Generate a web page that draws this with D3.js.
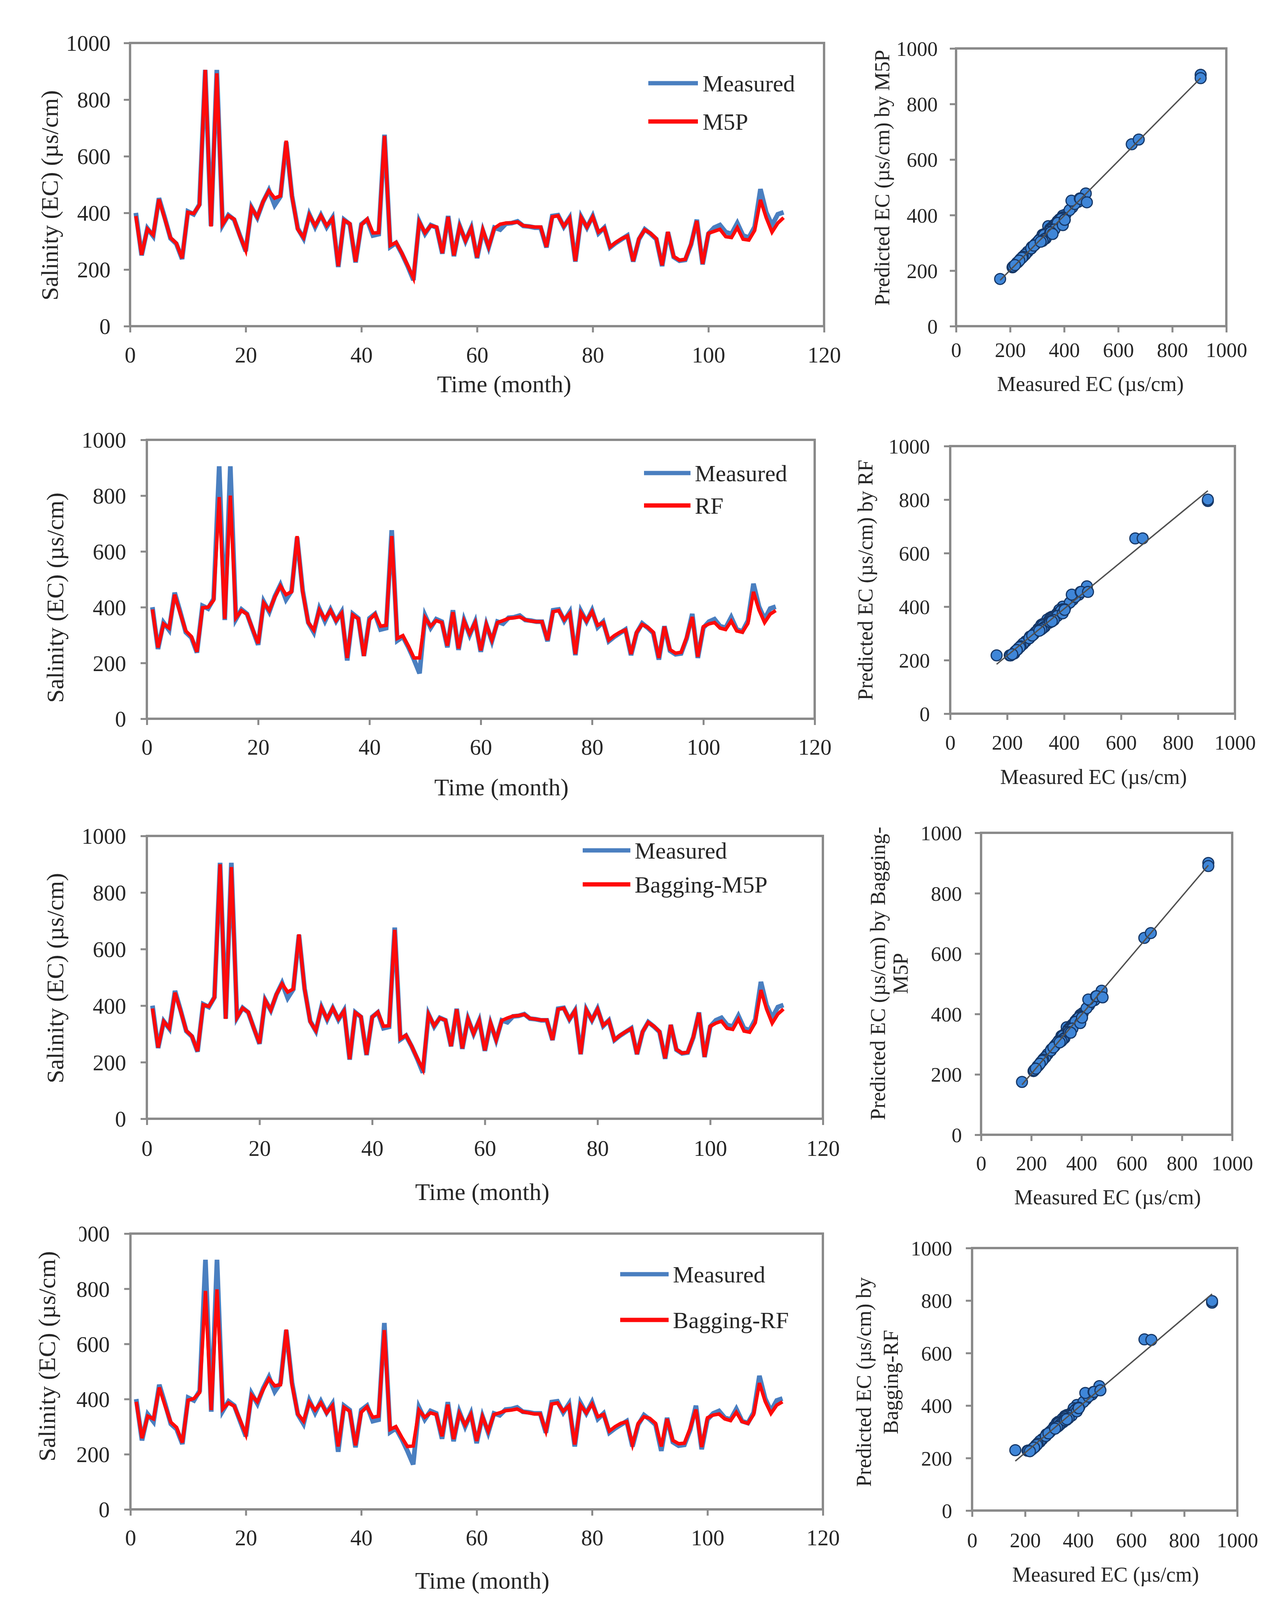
<!DOCTYPE html>
<html>
<head>
<meta charset="utf-8">
<script src="https://cdn.jsdelivr.net/npm/d3@7"></script>
<style>
  html, body { margin: 0; padding: 0; background: #ffffff; }
  svg { display: block; }
</style>
</head>
<body>
<svg id="chart" width="3280" height="4136"></svg>
<script>
// ---------------- DATA ----------------
const months = d3.range(1, 114); // months 1..113
const timeTicks = [0, 20, 40, 60, 80, 100, 120];
const ecTicks = [0, 200, 400, 600, 800, 1000];

const measured = [400,250,345,318,452,383,310,291,237,405,
  395,430,905,354,905,357,392,376,320,265,
  420,383,439,480,427,458,650,460,345,310,
  395,350,392,350,383,209,376,360,225,360,
  376,320,325,676,280,294,256,212,163,370,
  326,357,348,256,389,247,354,300,348,240,
  338,278,348,341,362,364,370,354,352,348,
  348,278,389,392,351,383,228,386,348,389,
  328,348,278,294,307,320,228,307,342,326,
  307,212,332,244,231,234,288,376,218,326,
  348,357,332,326,364,320,313,351,484,402,
  357,395,402];

const predM5P = [389,252,343,322,448,380,312,293,240,402,
  398,428,905,352,893,360,390,378,318,268,
  418,385,440,478,452,460,655,458,342,313,
  392,355,390,355,380,212,374,362,228,358,
  378,329,330,672,285,296,258,215,170,368,
  330,355,350,258,386,250,352,302,346,243,
  340,280,346,360,364,365,368,355,352,350,
  350,280,386,390,353,381,230,384,350,386,
  332,346,280,296,309,318,230,309,340,328,
  309,215,333,246,233,236,290,372,220,328,
  335,342,316,313,348,307,304,338,446,383,
  332,364,383];

const predRF = [392,255,340,325,445,378,315,295,240,398,
  400,425,795,358,800,362,388,375,322,270,
  415,388,436,476,445,455,655,455,345,318,
  390,358,388,352,378,218,372,358,225,355,
  375,332,335,655,288,298,260,218,218,362,
  332,352,345,262,382,252,350,305,345,245,
  338,282,345,352,360,362,365,355,350,348,
  348,282,384,388,355,378,232,380,350,384,
  335,345,282,298,310,318,232,310,338,328,
  310,218,330,248,235,238,292,365,222,330,
  340,345,325,320,350,315,310,342,455,390,
  345,375,388];

const predBagM5P = [390,252,344,320,446,381,311,292,239,403,
  397,429,900,353,890,358,391,377,319,267,
  419,384,440,477,448,459,652,459,343,312,
  393,353,391,353,381,211,375,361,227,359,
  377,327,329,668,283,295,257,214,175,369,
  329,356,349,257,387,249,353,301,347,242,
  339,279,347,356,363,365,369,355,352,349,
  349,279,387,391,352,382,229,385,349,387,
  330,347,279,295,308,319,229,308,341,327,
  308,214,332,245,232,235,289,374,219,327,
  338,345,320,316,352,310,306,340,455,388,
  338,370,388];

const predBagRF = [390,258,338,328,442,376,316,297,242,396,
  402,424,792,360,798,364,386,374,324,272,
  414,390,434,474,448,452,652,452,346,320,
  388,360,386,350,376,228,370,356,232,352,
  372,334,338,650,290,300,262,228,230,360,
  334,350,344,265,380,255,348,306,344,248,
  336,284,344,350,358,360,364,354,350,346,
  346,284,382,386,356,376,235,378,350,382,
  336,344,284,300,312,318,235,312,336,330,
  312,228,328,250,238,240,294,362,226,332,
  342,346,328,322,352,318,312,344,458,392,
  348,378,390];

const modelNames = ["M5P", "RF", "Bagging-M5P", "Bagging-RF"];
const predictions = [predM5P, predRF, predBagM5P, predBagRF];
const scatterTitles = [
  ["Predicted EC (µs/cm) by M5P"],
  ["Predicted EC (µs/cm)  by RF"],
  ["Predicted EC (µs/cm) by Bagging-", "M5P"],
  ["Predicted EC (µs/cm) by", "Bagging-RF"]
];

// ---------------- STYLE / LAYOUT ----------------
const FONT = "'Liberation Serif', 'Times New Roman', 'DejaVu Serif', serif";
const TEXT = "#262626";
const AXIS = "#8a8a8a";
const BLUE = "#4a7fc0";
const RED = "#ff0a0a";

const tsLayout = [
  {left:333, right:2110, top:110, bottom:835, yLab:283, yTitleX:126, yTitleY:500, xLabY:908, xTitleY:982, xTitleX:1291,
   lg1:1660, lg2:1787, lgY1:213, lgY2:311, lgTx:1799, clipTop:false},
  {left:376, right:2086, top:1126, bottom:1840, yLab:323, yTitleX:140, yTitleY:1530, xLabY:1912, xTitleY:2014, xTitleX:1284,
   lg1:1649, lg2:1768, lgY1:1211, lgY2:1294, lgTx:1779, clipTop:false},
  {left:376, right:2107, top:2140, bottom:2864, yLab:323, yTitleX:140, yTitleY:2504, xLabY:2939, xTitleY:3050, xTitleX:1235,
   lg1:1492, lg2:1614, lgY1:2177, lgY2:2264, lgTx:1625, clipTop:false},
  {left:334, right:2107, top:3158, bottom:3864, yLab:281, yTitleX:119, yTitleY:3472, xLabY:3936, xTitleY:4045, xTitleX:1235,
   lg1:1588, lg2:1712, lgY1:3262, lgY2:3379, lgTx:1723, clipTop:true}
];

const scLayout = [
  {left:2448, right:3140, top:124, bottom:835, yLab:2401, tX:[2258], tY:455, xLabY:895, xTitleY:982, xTitleX:2792},
  {left:2433, right:3162, top:1142, bottom:1827, yLab:2381, tX:[2215], tY:1485, xLabY:1900, xTitleY:1988, xTitleX:2800},
  {left:2512, right:3155, top:2132, bottom:2905, yLab:2463, tX:[2247, 2305], tY:2492, xLabY:2977, xTitleY:3064, xTitleX:2836},
  {left:2489, right:3168, top:3195, bottom:3867, yLab:2438, tX:[2211, 2280], tY:3538, xLabY:3942, xTitleY:4030, xTitleX:2831}
];

const svg = d3.select("#chart");
svg.append("rect").attr("width", 3280).attr("height", 4136).attr("fill", "#ffffff");

function styleAxis(g, fontSize) {
  g.select(".domain").remove();
  g.selectAll(".tick line").attr("stroke", AXIS).attr("stroke-width", 5);
  g.selectAll(".tick text")
    .attr("font-family", FONT).attr("font-size", fontSize).attr("fill", TEXT);
}

function drawTimeSeries(i) {
  const L = tsLayout[i];
  const pred = predictions[i];
  const x = d3.scaleLinear().domain([0, 120]).range([L.left, L.right]);
  const y = d3.scaleLinear().domain([0, 1000]).range([L.bottom, L.top]);
  const g = svg.append("g");

  // x axis ticks + labels
  const gx = g.append("g").attr("transform", `translate(0,${L.bottom})`)
    .call(d3.axisBottom(x).tickValues(timeTicks).tickSize(16).tickFormat(d3.format("d")));
  styleAxis(gx, 57);
  gx.selectAll(".tick text").attr("y", L.xLabY - L.bottom).attr("dy", "0.35em");

  // y axis ticks + labels
  const gy = g.append("g").attr("transform", `translate(${L.left},0)`)
    .call(d3.axisLeft(y).tickValues(ecTicks).tickSize(16).tickFormat(d3.format("d")));
  styleAxis(gy, 57);
  gy.selectAll(".tick text").attr("x", L.yLab - L.left).attr("dy", "0.35em").attr("text-anchor", "end");
  if (L.clipTop) {
    // the scanned original has the leading digit of the top label cut off
    gy.append("clipPath").attr("id", "cutLabelLocal")
      .append("rect").attr("x", 203 - L.left).attr("y", -5000).attr("width", 10000).attr("height", 10000);
    gy.selectAll(".tick").filter(d => d === 1000).select("text").attr("clip-path", "url(#cutLabelLocal)");
  }

  // plot border
  g.append("rect").attr("x", L.left).attr("y", L.top)
    .attr("width", L.right - L.left).attr("height", L.bottom - L.top)
    .attr("fill", "none").attr("stroke", AXIS).attr("stroke-width", 6);

  const line = d3.line().x((d, k) => x(months[k])).y(d => y(d));
  g.append("path").datum(measured).attr("d", line)
    .attr("fill", "none").attr("stroke", BLUE).attr("stroke-width", 12).attr("stroke-linejoin", "miter");
  g.append("path").datum(pred).attr("d", line)
    .attr("fill", "none").attr("stroke", RED).attr("stroke-width", 9).attr("stroke-linejoin", "miter");

  // legend
  g.append("line").attr("x1", L.lg1).attr("x2", L.lg2).attr("y1", L.lgY1).attr("y2", L.lgY1)
    .attr("stroke", BLUE).attr("stroke-width", 11);
  g.append("line").attr("x1", L.lg1).attr("x2", L.lg2).attr("y1", L.lgY2).attr("y2", L.lgY2)
    .attr("stroke", RED).attr("stroke-width", 11);
  g.append("text").attr("x", L.lgTx).attr("y", L.lgY1).attr("dy", "0.35em")
    .attr("font-family", FONT).attr("font-size", 60).attr("fill", TEXT).text("Measured");
  g.append("text").attr("x", L.lgTx).attr("y", L.lgY2).attr("dy", "0.35em")
    .attr("font-family", FONT).attr("font-size", 60).attr("fill", TEXT).text(modelNames[i]);

  // axis titles
  g.append("text").attr("transform", `translate(${L.yTitleX},${L.yTitleY}) rotate(-90)`)
    .attr("text-anchor", "middle").attr("dy", "0.35em")
    .attr("font-family", FONT).attr("font-size", 62).attr("fill", TEXT).text("Salinity (EC) (µs/cm)");
  g.append("text").attr("x", L.xTitleX).attr("y", L.xTitleY).attr("dy", "0.35em")
    .attr("text-anchor", "middle")
    .attr("font-family", FONT).attr("font-size", 62).attr("fill", TEXT).text("Time (month)");
}

function drawScatter(i) {
  const L = scLayout[i];
  const pred = predictions[i];
  const x = d3.scaleLinear().domain([0, 1000]).range([L.left, L.right]);
  const y = d3.scaleLinear().domain([0, 1000]).range([L.bottom, L.top]);
  const g = svg.append("g");

  const gx = g.append("g").attr("transform", `translate(0,${L.bottom})`)
    .call(d3.axisBottom(x).tickValues(ecTicks).tickSize(16).tickFormat(d3.format("d")));
  styleAxis(gx, 53);
  gx.selectAll(".tick text").attr("y", L.xLabY - L.bottom).attr("dy", "0.35em");

  const gy = g.append("g").attr("transform", `translate(${L.left},0)`)
    .call(d3.axisLeft(y).tickValues(ecTicks).tickSize(16).tickFormat(d3.format("d")));
  styleAxis(gy, 53);
  gy.selectAll(".tick text").attr("x", L.yLab - L.left).attr("dy", "0.35em").attr("text-anchor", "end");

  g.append("rect").attr("x", L.left).attr("y", L.top)
    .attr("width", L.right - L.left).attr("height", L.bottom - L.top)
    .attr("fill", "none").attr("stroke", AXIS).attr("stroke-width", 6);

  const pts = measured.map((m, k) => ({m: m, p: pred[k]}));
  g.append("g").selectAll("circle").data(pts).join("circle")
    .attr("cx", d => x(d.m)).attr("cy", d => y(d.p)).attr("r", 14)
    .attr("fill", "#3f86d8").attr("stroke", "#163766").attr("stroke-width", 3);

  // linear trend line (least squares)
  const mx = d3.mean(pts, d => d.m), my = d3.mean(pts, d => d.p);
  const sxy = d3.sum(pts, d => (d.m - mx) * (d.p - my));
  const sxx = d3.sum(pts, d => (d.m - mx) * (d.m - mx));
  const slope = sxy / sxx, icpt = my - slope * mx;
  const [x0, x1] = d3.extent(pts, d => d.m);
  g.append("line").attr("x1", x(x0)).attr("y1", y(icpt + slope * x0))
    .attr("x2", x(x1)).attr("y2", y(icpt + slope * x1))
    .attr("stroke", "#505050").attr("stroke-width", 3.5);

  // titles
  const lines = scatterTitles[i];
  lines.forEach((t, j) => {
    g.append("text").attr("transform", `translate(${L.tX[j]},${L.tY}) rotate(-90)`)
      .attr("text-anchor", "middle").attr("dy", "0.35em")
      .attr("font-family", FONT).attr("font-size", 54).attr("fill", TEXT).text(t);
  });
  g.append("text").attr("x", L.xTitleX).attr("y", L.xTitleY).attr("dy", "0.35em")
    .attr("text-anchor", "middle")
    .attr("font-family", FONT).attr("font-size", 54).attr("fill", TEXT).text("Measured EC (µs/cm)");
}

for (let i = 0; i < 4; i++) { drawTimeSeries(i); drawScatter(i); }
</script>
</body>
</html>
